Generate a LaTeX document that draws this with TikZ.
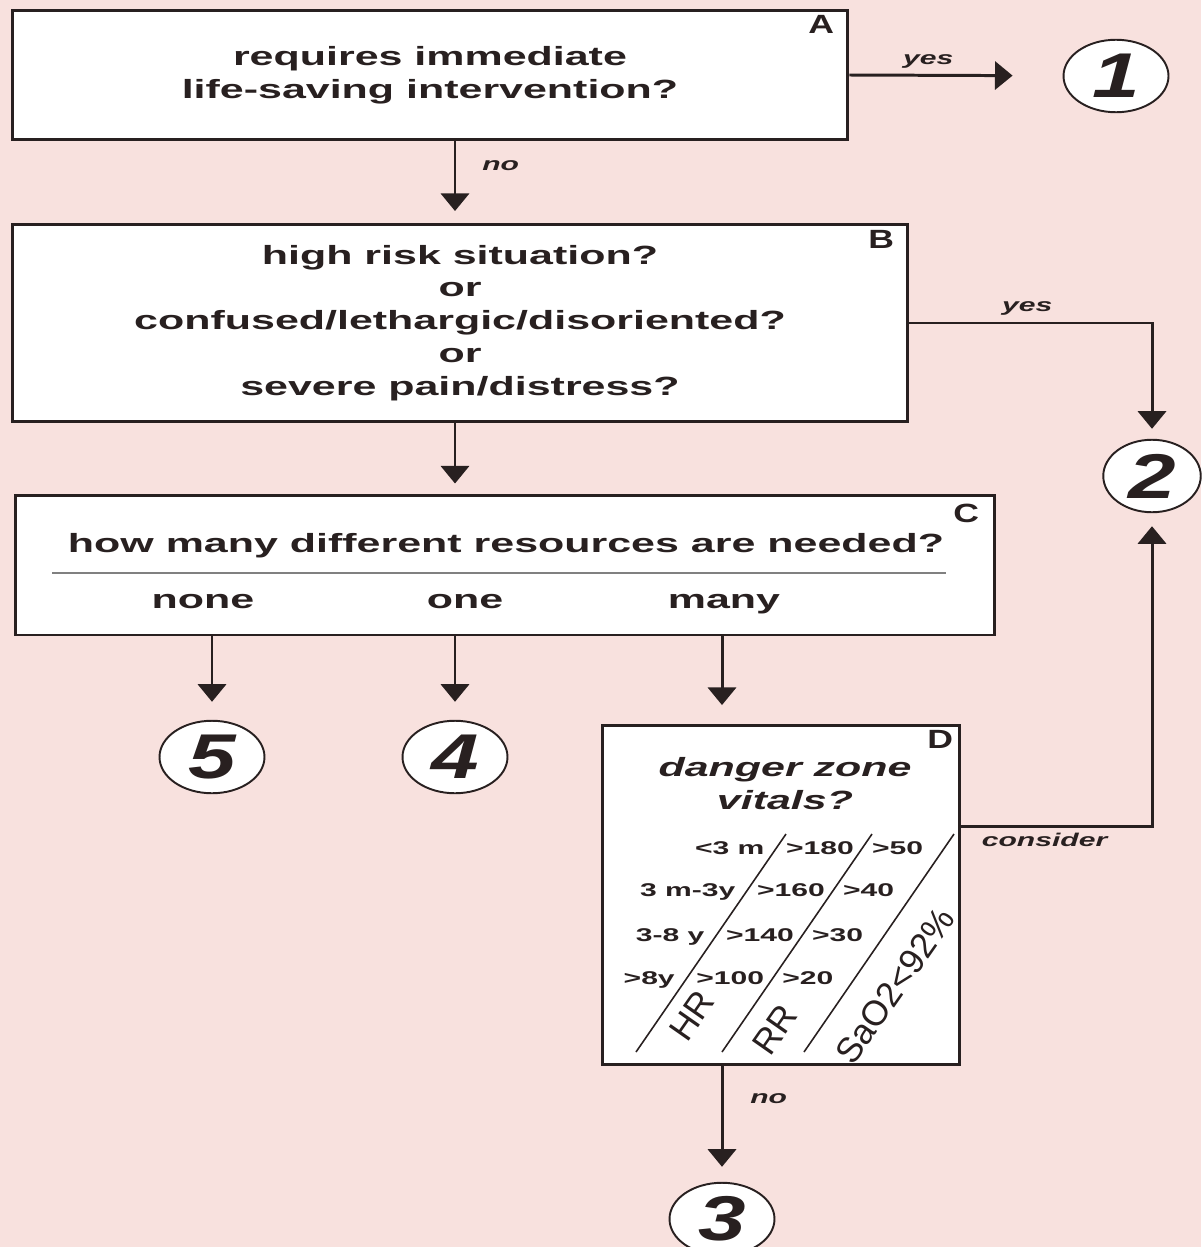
\documentclass[tikz,border=0pt]{standalone}
\usepackage{fontspec}
\setmainfont{Liberation Sans}
\newfontfamily\widefont[FakeStretch=1.63]{Liberation Sans}
\newfontfamily\numfont[FakeStretch=1.35]{Liberation Sans}
\usepackage{tikz}
\usetikzlibrary{arrows.meta,calc,positioning,shapes.geometric}
\definecolor{bgpink}{RGB}{248,225,222}
\definecolor{ink}{RGB}{40,32,32}
\tikzset{
  qbox/.style={draw=ink,line width=1.7pt,fill=white,inner sep=0pt},
  qtext/.style={align=center,inner sep=0pt,text=ink,font=\widefont\fontsize{15}{18.7}\selectfont\bfseries},
  boxtag/.style={anchor=north east,inner sep=0pt,text=ink,font=\numfont\fontsize{15}{15}\selectfont\bfseries},
  outcome/.style={ellipse,draw=ink,line width=1.1pt,fill=white,minimum width=2.1cm,minimum height=1.45cm,inner sep=0pt,text=ink,font=\numfont\fontsize{36}{36}\selectfont\bfseries\itshape},
  flow/.style={-{Triangle[width=16pt,length=10pt]},draw=ink,line width=1.7pt},
  answer/.style={text=ink,font=\widefont\fontsize{10.5}{12}\selectfont\bfseries\itshape},
  vital/.style={inner sep=0pt,text=ink,font=\widefont\fontsize{10.5}{12}\selectfont\bfseries},
  vitalname/.style={inner sep=0pt,rotate=55,text=ink,font=\fontsize{20}{20}\selectfont}
}
\begin{document}
\begin{tikzpicture}[x=0.02cm,y=-0.02cm]
% background
\fill[bgpink] (0,0) rectangle (1201,1247);
\useasboundingbox (0,0) rectangle (1201,1247);
% question boxes
\node[qbox,qtext,minimum width=16.72cm,minimum height=2.6cm] (A) at (430,75) {requires immediate\\life-saving intervention?};
\node[qbox,qtext,minimum width=17.92cm,minimum height=3.94cm] (B) at (460,323) {high risk situation?\\or\\confused/lethargic/disoriented?\\or\\severe pain/distress?};
\node[qbox,minimum width=19.6cm,minimum height=2.8cm] (C) at (505,565) {};
\node[qbox,minimum width=7.16cm,minimum height=6.78cm] (D) at (781,895) {};
\node[boxtag] (tagA) at ([xshift=-0.3cm,yshift=-0.14cm]A.north east) {A};
\node[boxtag] (tagB) at ([xshift=-0.3cm,yshift=-0.14cm]B.north east) {B};
\node[boxtag] (tagC) at ([xshift=-0.34cm,yshift=-0.2cm]C.north east) {C};
\node[boxtag] (tagD) at ([xshift=-0.16cm,yshift=-0.12cm]D.north east) {D};
% resources
\node[qtext,anchor=base] (Cq) at (506,552) {how many different resources are needed?};
\draw[gray,line width=0.9pt] (52,573) -- (946,573);
\node[qtext,anchor=base] (none) at (203,608) {none};
\node[qtext,anchor=base] (one) at (465,608) {one};
\node[qtext,anchor=base] (many) at (724,608) {many};
% outcomes
\node[outcome] (o1) at (1116,76) {1};
\node[outcome,minimum width=1.95cm] (o2) at (1152,476) {2};
\node[outcome] (o3) at (722,1219) {3};
\node[outcome] (o4) at (455,757) {4};
\node[outcome] (o5) at (212,757) {5};
% connectors
\draw[flow,shorten >=1.0cm] (A.east) -- node[answer,above,pos=0.37] {yes} (o1);
\draw[flow,shorten >=0.24cm] (A.south -| o4) -- node[answer,anchor=west,pos=0.3,xshift=0.4cm] {no} (B.north -| o4);
\draw[flow,shorten >=0.2cm] (B.east) -| node[answer,above,pos=0.243] {yes} (o2);
\draw[flow,shorten >=0.2cm] (B.south -| o4) -- (C.north -| o4);
\draw[flow,shorten >=0.36cm] (C.south -| o5) -- (o5);
\draw[flow,shorten >=0.36cm] (C.south -| o4) -- (o4);
\draw[flow,shorten >=0.38cm] (C.south -| o3) -- (D.north -| o3);
\draw[flow,shorten >=0.26cm] ([yshift=-2.04cm]D.north east) -| node[answer,below,pos=0.218] {consider} (o2);
\draw[flow,shorten >=0.3cm] (D.south -| o3) -- node[answer,anchor=west,pos=0.28,xshift=0.42cm] {no} (o3);
% danger zone vitals
\node[qtext,anchor=base,font=\widefont\fontsize{15}{18.7}\selectfont\bfseries\itshape] (Dq) at (785,809) {danger zone\\vitals?};
\foreach \xb in {636,722,804}
  \draw[ink,line width=0.9pt] (\xb,1052) -- ({\xb+150},834);
\foreach \yy/\age/\hr/\rr [count=\r] in {848/{<3 m}/>180/>50,890/{3 m-3y}/>160/>40,935/{3-8 y}/>140/>30,978/{>8y}/>100/>20} {
  \pgfmathsetmacro\xa{636+(1052-\yy)*0.69}
  \pgfmathsetmacro\xr{722+(1052-\yy)*0.69}
  \node[vital,anchor=base east] (age\r) at (\xa-12,\yy+6) {\age};
  \node[vital,anchor=base west] (hr\r) at (\xa+9,\yy+6) {\hr};
  \node[vital,anchor=base west] (rr\r) at (\xr+9,\yy+6) {\rr};
}
\node[vitalname] (hr) at (692,1016) {HR};
\node[vitalname] (rr) at (775,1030) {RR};
\node[vitalname] (sao) at (895,986) {SaO2<92\%};
\end{tikzpicture}
\end{document}
